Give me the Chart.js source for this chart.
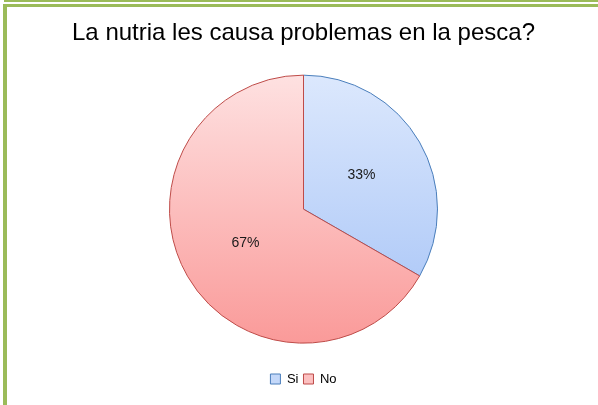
<!DOCTYPE html>
<html>
<head>
<meta charset="utf-8">
<script src="https://cdn.jsdelivr.net/npm/chart.js@4/dist/chart.umd.min.js"></script>
<style>
    body { margin: 0; background: #fff; }
    #marco { position: relative; width: 598px; height: 405px; overflow: hidden; background: #fff; }
    #marco canvas { position: absolute; left: 0; top: 0; }
    .borde { position: absolute; background: #9bbb59; z-index: 2; }
</style>
</head>
<body>
<div id="marco">
    <canvas id="graficaNutria" width="598" height="405"></canvas>
    <div class="borde" style="left:4px;top:0;width:594px;height:2px;"></div>
    <div class="borde" style="left:3px;top:4px;width:595px;height:3px;"></div>
    <div class="borde" style="left:3px;top:4px;width:4px;height:401px;"></div>
</div>
<script>
const titulo = 'La nutria les causa problemas en la pesca?';
const respuestas = ['Si', 'No'];
const porcentajes = [33.3, 66.7];

const coloresArriba = ['#dce8fd', '#fee1e1'];
const coloresAbajo = ['#a4c2f6', '#fa9a99'];
const coloresBorde = ['#4a7ebb', '#be4b48'];
const coloresLeyenda = ['#c4d8f9', '#fcc0c0'];
const RADIO = 134;
const FUENTE = '"Liberation Sans", Arial, sans-serif';

function rellenoDegradado(ctx) {
    const area = ctx.chart.chartArea;
    const i = ctx.dataIndex;
    if (!area) return coloresLeyenda[i];
    const cy = (area.top + area.bottom) / 2;
    const g = ctx.chart.ctx.createLinearGradient(0, cy - RADIO, 0, cy + RADIO);
    g.addColorStop(0, coloresArriba[i]);
    g.addColorStop(1, coloresAbajo[i]);
    return g;
}

const etiquetasPorcentaje = {
    id: 'etiquetasPorcentaje',
    afterDatasetsDraw(chart) {
        const ctx = chart.ctx;
        const datos = chart.data.datasets[0].data;
        const total = datos.reduce((a, b) => a + b, 0);
        ctx.save();
        ctx.font = '14px ' + FUENTE;
        ctx.fillStyle = '#1a1a1a';
        ctx.textAlign = 'center';
        ctx.textBaseline = 'middle';
        chart.getDatasetMeta(0).data.forEach((arco, i) => {
            const p = arco.tooltipPosition();
            ctx.fillText(Math.round(datos[i] / total * 100) + '%', p.x, p.y);
        });
        ctx.restore();
    }
};

new Chart(document.getElementById('graficaNutria').getContext('2d'), {
    type: 'pie',
    data: {
        labels: respuestas,
        datasets: [{
            data: porcentajes,
            backgroundColor: rellenoDegradado,
            borderColor: coloresBorde,
            borderWidth: 1,
            radius: RADIO
        }]
    },
    options: {
        responsive: false,
        animation: false,
        layout: { padding: { top: 10, bottom: 9.5, left: 16, right: 7 } },
        plugins: {
            title: {
                display: true,
                text: titulo,
                color: '#000',
                font: { family: FUENTE, size: 24, weight: 'normal' },
                padding: { top: 9, bottom: 3 }
            },
            legend: {
                position: 'bottom',
                labels: {
                    color: '#111',
                    font: { family: FUENTE, size: 13 },
                    boxWidth: 10,
                    boxHeight: 10,
                    padding: 5,
                    generateLabels(chart) {
                        return chart.data.labels.map((l, i) => ({
                            text: l,
                            fillStyle: coloresLeyenda[i],
                            strokeStyle: coloresBorde[i],
                            lineWidth: 1,
                            index: i
                        }));
                    }
                }
            },
            tooltip: { enabled: false }
        }
    },
    plugins: [etiquetasPorcentaje]
});
</script>
</body>
</html>
